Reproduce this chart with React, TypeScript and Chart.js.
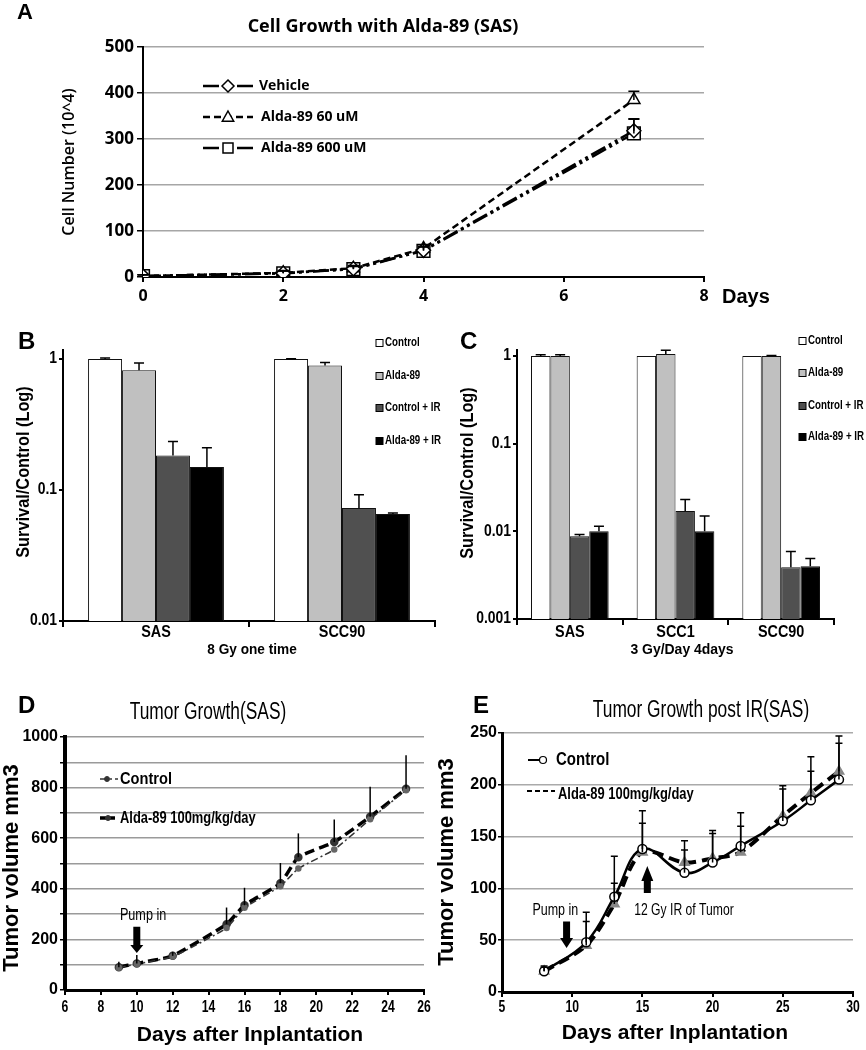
import React, { useEffect, useRef } from 'react';
import { Chart, registerables } from 'chart.js';

Chart.register(...registerables);

const ARIAL = '"Liberation Sans", Arial, sans-serif';
const OPEN = '"Open Sans", "DejaVu Sans", sans-serif';

// ---------- Panel A ----------
const daysA = [0, 2, 3, 4, 7];
const vehicleA = [2, 8, 18, 58, 318];
const alda60A = [2, 9, 19, 62, 385];
const alda600A = [2, 8, 17, 57, 312];
const vehicleErrA = [3, 5, 6, 8, 26];
const alda60ErrA = [3, 5, 6, 8, 19];
const alda600ErrA = [3, 5, 6, 8, 31];
const seriesNamesA = ['Vehicle', 'Alda-89 60 uM', 'Alda-89 600 uM'];

// ---------- Panel B ----------
const cellsB = ['SAS', 'SCC90'];
const controlB = [1.0, 1.0];
const aldaB = [0.82, 0.89];
const controlIRB = [0.183, 0.073];
const aldaIRB = [0.15, 0.0655];
const controlErrB = [0.015, 0.004];
const aldaErrB = [0.11, 0.05];
const controlIRErrB = [0.051, 0.019];
const aldaIRErrB = [0.06, 0.0012];
const logTicksB = [0.01, 0.1, 1];

// ---------- Panel C ----------
const cellsC = ['SAS', 'SCC1', 'SCC90'];
const controlC = [1.0, 1.0, 1.0];
const aldaC = [1.0, 1.05, 1.0];
const controlIRC = [0.0088, 0.017, 0.0039];
const aldaIRC = [0.01, 0.01, 0.004];
const controlErrC = [0.03, 0, 0];
const aldaErrC = [0.03, 0.11, 0.01];
const controlIRErrC = [0.0004, 0.006, 0.002];
const aldaIRErrC = [0.0014, 0.005, 0.0009];
const logTicksC = [0.001, 0.01, 0.1, 1];
const barNames = ['Control', 'Alda-89', 'Control + IR', 'Alda-89 + IR'];
const barColors = ['#ffffff', '#c0c0c0', '#505050', '#000000'];

// ---------- Panel D ----------
const daysD = [9, 10, 12, 15, 16, 18, 19, 21, 23, 25];
const controlD = [88, 103, 132, 245, 325, 410, 480, 555, 675, 790];
const aldaD = [90, 105, 135, 260, 335, 422, 525, 585, 685, 795];
const aldaErrD = [22, 33, 16, 66, 69, 80, 94, 89, 118, 133];

// ---------- Panel E ----------
const daysE = [8, 11, 13, 15, 18, 20, 22, 25, 27, 29];
const controlE = [20, 48, 92, 138, 115, 125, 141, 165, 185, 205];
const aldaE = [20, 45, 85, 135, 125, 129, 135, 170, 192, 213];
const controlErrE = [5, 29, 39, 37, 31, 31, 32, 34, 42, 42];
const aldaErrE = [4, 23, 20, 28, 12, 24, 25, 26, 21, 27];
const tumorNames = ['Control', 'Alda-89 100mg/kg/day'];

type R4 = [number, number, number, number];

const RECT_A: R4 = [0, 0, 800, 312];
const AREA_A: R4 = [143, 47, 704, 277];
const RECT_B: R4 = [0, 318, 452, 350];
const AREA_B: R4 = [63, 350, 435, 621];
const RECT_C: R4 = [440, 318, 426, 350];
const AREA_C: R4 = [517, 350, 834, 619];
const RECT_D: R4 = [0, 680, 440, 370];
const AREA_D: R4 = [65, 737, 424, 990];
const RECT_E: R4 = [430, 680, 436, 370];
const AREA_E: R4 = [502, 733, 853, 992];

function geom(rect: R4, area: R4) {
  const [cl, ct, cw, ch] = rect;
  const [l, t, r, b] = area;
  return {
    padding: { top: t - ct, right: cl + cw - r, left: 0, bottom: 0 },
    yWidth: l - cl,
    xHeight: ct + ch - b,
  };
}

// text drawn with optional horizontal compression (to emulate a narrow face)
function text(ctx: any, s: string, x: number, y: number, font: string, align = 'center', rot = 0, sx = 1) {
  ctx.save();
  ctx.font = font;
  ctx.fillStyle = '#000';
  ctx.textAlign = align;
  ctx.textBaseline = 'middle';
  ctx.translate(x, y);
  if (rot) ctx.rotate(rot);
  if (sx !== 1) ctx.scale(sx, 1);
  ctx.fillText(s, 0, 0);
  ctx.restore();
}

function marker(ctx: any, style: string, x: number, y: number, r: number, fill: string, stroke: string, lw: number) {
  ctx.save();
  ctx.setLineDash([]);
  ctx.beginPath();
  if (style === 'rect') ctx.rect(x - r, y - r, 2 * r, 2 * r);
  else if (style === 'rectRot') {
    ctx.moveTo(x, y - r); ctx.lineTo(x + r, y); ctx.lineTo(x, y + r); ctx.lineTo(x - r, y); ctx.closePath();
  } else if (style === 'triangle') {
    ctx.moveTo(x, y - r); ctx.lineTo(x + r * 0.95, y + r * 0.7); ctx.lineTo(x - r * 0.95, y + r * 0.7); ctx.closePath();
  } else ctx.arc(x, y, r, 0, Math.PI * 2);
  ctx.fillStyle = fill;
  ctx.fill();
  ctx.lineWidth = lw;
  ctx.strokeStyle = stroke;
  ctx.stroke();
  ctx.restore();
}

function seg(ctx: any, x1: number, x2: number, y: number, lw: number, dash: number[], color = '#000') {
  ctx.save();
  ctx.strokeStyle = color;
  ctx.lineWidth = lw;
  ctx.setLineDash(dash);
  ctx.beginPath();
  ctx.moveTo(x1, y);
  ctx.lineTo(x2, y);
  ctx.stroke();
  ctx.restore();
}

function blockArrow(ctx: any, x: number, yFrom: number, yTip: number, shaftW: number, headW: number, headLen: number) {
  const dir = yTip > yFrom ? 1 : -1;
  const yHead = yTip - dir * headLen;
  ctx.save();
  ctx.fillStyle = '#000';
  ctx.beginPath();
  ctx.moveTo(x - shaftW / 2, yFrom);
  ctx.lineTo(x + shaftW / 2, yFrom);
  ctx.lineTo(x + shaftW / 2, yHead);
  ctx.lineTo(x + headW / 2, yHead);
  ctx.lineTo(x, yTip);
  ctx.lineTo(x - headW / 2, yHead);
  ctx.lineTo(x - shaftW / 2, yHead);
  ctx.closePath();
  ctx.fill();
  ctx.restore();
}

const errorBars = {
  id: 'errorBars',
  afterDatasetsDraw(chart: any) {
    const ctx = chart.ctx;
    chart.data.datasets.forEach((ds: any, i: number) => {
      const errs = ds.errPlus;
      if (!errs) return;
      const meta = chart.getDatasetMeta(i);
      const yScale = chart.scales[meta.yAxisID];
      ctx.save();
      ctx.strokeStyle = '#000';
      ctx.lineWidth = ds.errWidth || 1.5;
      ctx.setLineDash([]);
      meta.data.forEach((el: any, j: number) => {
        const e = errs[j];
        if (!e) return;
        const raw = ds.data[j];
        const v = typeof raw === 'number' ? raw : raw.y;
        const x = el.x;
        const y0 = el.y;
        const y1 = yScale.getPixelForValue(v + e);
        ctx.beginPath();
        ctx.moveTo(x, y0);
        ctx.lineTo(x, y1);
        const c = ds.errCap ?? 5;
        if (c > 0) {
          ctx.moveTo(x - c, y1);
          ctx.lineTo(x + c, y1);
        }
        ctx.stroke();
      });
      ctx.restore();
    });
  },
};

// decorations are drawn in page coordinates; X/Y map data values to page coordinates
function deco(rect: R4, draw: (ctx: any, X: (v: number) => number, Y: (v: number) => number, chart: any) => void) {
  return {
    id: 'deco',
    afterDraw(chart: any) {
      const ctx = chart.ctx;
      const xs = chart.scales.x, ys = chart.scales.y;
      const X = (v: number) => xs.getPixelForValue(v) + rect[0];
      const Y = (v: number) => ys.getPixelForValue(v) + rect[1];
      ctx.save();
      ctx.translate(-rect[0], -rect[1]);
      draw(ctx, X, Y, chart);
      ctx.restore();
    },
  };
}

function baseOpts(rect: R4, area: R4) {
  const g = geom(rect, area);
  return {
    g,
    opts: {
      responsive: false,
      animation: false,
      devicePixelRatio: 1,
      layout: { padding: g.padding },
      plugins: { legend: { display: false }, tooltip: { enabled: false }, title: { display: false } },
    },
  };
}

// ---------------- Panel A config ----------------
function configA() {
  const { g, opts } = baseOpts(RECT_A, AREA_A);
  const mk = (name: string, ys: number[], errs: number[], dash: number[], style: string, r: number) => ({
    label: name,
    data: daysA.map((d, i) => ({ x: d, y: ys[i] })),
    borderColor: '#000',
    borderWidth: 2.5,
    borderDash: dash,
    backgroundColor: '#fff',
    pointStyle: style,
    pointRadius: r,
    pointBorderWidth: 1.5,
    pointBorderColor: '#000',
    pointBackgroundColor: '#fff',
    errPlus: errs,
    errCap: 5.5,
    errWidth: 1.5,
    tension: 0,
  });
  const datasets = [
    mk(seriesNamesA[0], vehicleA, vehicleErrA, [16, 4, 3, 4, 3, 4], 'rectRot', 7),
    mk(seriesNamesA[1], alda60A, alda60ErrA, [7, 4], 'triangle', 7),
    mk(seriesNamesA[2], alda600A, alda600ErrA, [16, 4, 3, 4, 3, 4], 'rect', 9),
  ];
  return {
    type: 'line',
    data: { datasets },
    options: {
      ...opts,
      scales: {
        x: {
          type: 'linear', min: 0, max: 8,
          afterFit: (a: any) => { a.height = g.xHeight; },
          ticks: { stepSize: 2, color: '#000', font: { family: OPEN, size: 16, weight: 'bold' }, padding: 5 },
          grid: { drawOnChartArea: false, drawTicks: true, tickLength: 5, tickColor: '#000', lineWidth: 2 },
          border: { color: '#000', width: 2 },
        },
        y: {
          min: 0, max: 500,
          afterFit: (a: any) => { a.width = g.yWidth; },
          ticks: { stepSize: 100, color: '#000', font: { family: OPEN, size: 17, weight: 'bold' }, padding: 3 },
          grid: { color: '#a6a6a6', lineWidth: 1.5, drawTicks: true, tickLength: 6, tickColor: '#000' },
          border: { color: '#000', width: 2 },
        },
      },
    },
    plugins: [
      errorBars,
      deco(RECT_A, (ctx) => {
        text(ctx, 'A', 17, 13, `bold 22px ${ARIAL}`, 'left');
        text(ctx, 'Cell Growth with Alda-89 (SAS)', 383, 27, `bold 18px ${OPEN}`);
        text(ctx, 'Cell Number (10^4)', 69, 162, `600 16px ${OPEN}`, 'center', -Math.PI / 2);
        text(ctx, 'Days', 722, 297, `bold 20px ${ARIAL}`, 'left');
        const rows = [86, 117, 148];
        datasets.forEach((ds: any, i: number) => {
          const y = rows[i];
          seg(ctx, 203, 253, y, 2.5, ds.borderDash);
          marker(ctx, ds.pointStyle, 228, y, ds.pointStyle === 'rect' ? 5 : 6, '#fff', '#000', 1.5);
          text(ctx, ds.label, i === 0 ? 259 : 261, y, `bold 14px ${OPEN}`, 'left');
        });
      }),
    ],
  };
}

// ---------------- Bar panels ----------------
function configBar(rect: R4, area: R4, cells: string[], vals: number[][], errs: number[][], logTicks: number[], catPct: number,
  drawExtra: (ctx: any) => void) {
  const { g, opts } = baseOpts(rect, area);
  const datasets = vals.map((v, i) => ({
    label: barNames[i],
    data: v,
    backgroundColor: barColors[i],
    borderColor: '#111',
    borderWidth: 1,
    categoryPercentage: catPct,
    barPercentage: 1,
    errPlus: errs[i],
    errCap: 5,
    errWidth: 1.5,
  }));
  return {
    type: 'bar',
    data: { labels: cells, datasets },
    options: {
      ...opts,
      scales: {
        x: {
          afterFit: (a: any) => { a.height = g.xHeight; },
          ticks: { display: false },
          grid: { offset: true, drawOnChartArea: false, drawTicks: true, tickLength: 6, tickColor: '#000', lineWidth: 2 },
          border: { color: '#000', width: 2 },
        },
        y: {
          type: 'logarithmic',
          min: logTicks[0],
          max: 1.17,
          afterFit: (a: any) => { a.width = g.yWidth; },
          afterBuildTicks: (a: any) => { a.ticks = logTicks.map((v) => ({ value: v })); },
          ticks: { display: false },
          grid: { drawOnChartArea: false, drawTicks: true, tickLength: 4, tickColor: '#000', lineWidth: 2 },
          border: { color: '#000', width: 2 },
        },
      },
    },
    plugins: [
      errorBars,
      deco(rect, (ctx, X, Y) => {
        cells.forEach((c, i) => text(ctx, c, X(i), 633, `bold 16px ${ARIAL}`, 'center', 0, 0.9));
        logTicks.forEach((v) => text(ctx, String(v), area[0] - 6, Y(v), `bold 16px ${ARIAL}`, 'right', 0, 0.87));
        drawExtra(ctx);
      }),
    ],
  };
}

function barLegend(ctx: any, x: number, rows: number[]) {
  rows.forEach((y, i) => {
    ctx.save();
    ctx.fillStyle = barColors[i];
    ctx.strokeStyle = '#000';
    ctx.lineWidth = 1;
    ctx.fillRect(x, y - 3.5, 7, 7);
    ctx.strokeRect(x, y - 3.5, 7, 7);
    ctx.restore();
    text(ctx, barNames[i], x + 9, y, `bold 12.5px ${ARIAL}`, 'left', 0, 0.78);
  });
}

function configB() {
  return configBar(RECT_B, AREA_B, cellsB, [controlB, aldaB, controlIRB, aldaIRB],
    [controlErrB, aldaErrB, controlIRErrB, aldaIRErrB], logTicksB, 0.73, (ctx) => {
      text(ctx, 'B', 18, 342, `bold 24px ${ARIAL}`, 'left');
      text(ctx, 'Survival/Control (Log)', 24, 472, `bold 19px ${ARIAL}`, 'center', -Math.PI / 2, 0.86);
      text(ctx, '8 Gy one time', 252, 650, `bold 15.5px ${ARIAL}`, 'center', 0, 0.88);
      barLegend(ctx, 376, [343, 376, 408, 441]);
    });
}

function configC() {
  return configBar(RECT_C, AREA_C, cellsC, [controlC, aldaC, controlIRC, aldaIRC],
    [controlErrC, aldaErrC, controlIRErrC, aldaIRErrC], logTicksC, 0.735, (ctx) => {
      text(ctx, 'C', 460, 342, `bold 24px ${ARIAL}`, 'left');
      text(ctx, 'Survival/Control (Log)', 468, 473, `bold 19px ${ARIAL}`, 'center', -Math.PI / 2, 0.86);
      text(ctx, '3 Gy/Day 4days', 682, 650, `bold 15.5px ${ARIAL}`, 'center', 0, 0.9);
      barLegend(ctx, 799, [341, 373, 406, 437]);
    });
}

// ---------------- Panel D ----------------
function configD() {
  const { g, opts } = baseOpts(RECT_D, AREA_D);
  const datasets = [
    {
      label: tumorNames[0],
      data: daysD.map((d, i) => ({ x: d, y: controlD[i] })),
      borderColor: '#333', borderWidth: 1.5, borderDash: [7, 3, 2, 3],
      pointRadius: 2.5, pointBackgroundColor: '#666', pointBorderColor: '#666', tension: 0.15,
    },
    {
      label: tumorNames[1],
      data: daysD.map((d, i) => ({ x: d, y: aldaD[i] })),
      borderColor: '#000', borderWidth: 3.5, borderDash: [10, 5],
      pointRadius: 2.5, pointBackgroundColor: '#333', pointBorderColor: '#333', tension: 0.15,
      errPlus: aldaErrD, errCap: 0, errWidth: 1.5,
    },
  ];
  return {
    type: 'line',
    data: { datasets },
    options: {
      ...opts,
      scales: {
        x: {
          type: 'linear', min: 6, max: 26,
          afterFit: (a: any) => { a.height = g.xHeight; },
          ticks: { stepSize: 2, display: false },
          grid: { drawOnChartArea: false, drawTicks: true, tickLength: 5, tickColor: '#000', lineWidth: 2 },
          border: { color: '#000', width: 3 },
        },
        y: {
          min: 0, max: 1000,
          afterFit: (a: any) => { a.width = g.yWidth; },
          ticks: { stepSize: 100, color: '#000', font: { family: ARIAL, size: 16, weight: 'bold' }, padding: 2,
            callback: (v: any) => (v % 200 === 0 ? String(v) : '') },
          grid: { color: '#9a9a9a', lineWidth: 1.5, drawTicks: true, tickLength: 5, tickColor: '#000' },
          border: { color: '#000', width: 4 },
        },
      },
    },
    plugins: [
      errorBars,
      deco(RECT_D, (ctx, X, Y, chart) => {
        chart.scales.x.ticks.forEach((t: any) =>
          text(ctx, String(t.value), X(t.value), 1008, `bold 16px ${ARIAL}`, 'center', 0, 0.76));
        text(ctx, 'D', 18, 706, `bold 24px ${ARIAL}`, 'left');
        text(ctx, 'Tumor Growth(SAS)', 208, 713, `23px ${ARIAL}`, 'center', 0, 0.755);
        text(ctx, 'Tumor volume mm3', 12, 868, `bold 22px ${ARIAL}`, 'center', -Math.PI / 2);
        text(ctx, 'Days after Inplantation', 250, 1035, `bold 21px ${ARIAL}`);
        // legend
        seg(ctx, 100, 118, 779, 1.5, [7, 3, 2, 3], '#333');
        marker(ctx, 'circle', 107, 779, 2.5, '#333', '#333', 1);
        text(ctx, tumorNames[0], 120, 779, `bold 17px ${ARIAL}`, 'left', 0, 0.86);
        seg(ctx, 100, 118, 818, 3.5, [6, 3]);
        marker(ctx, 'circle', 108, 818, 2.5, '#333', '#333', 1);
        text(ctx, tumorNames[1], 120, 818, `bold 17px ${ARIAL}`, 'left', 0, 0.76);
        // annotation
        text(ctx, 'Pump in', X(10.35), Y(296), `16px ${ARIAL}`, 'center', 0, 0.79);
        blockArrow(ctx, X(10), Y(250), Y(146), 7, 13, 8);
      }),
    ],
  };
}

// ---------------- Panel E ----------------
function configE() {
  const { g, opts } = baseOpts(RECT_E, AREA_E);
  const datasets = [
    {
      label: tumorNames[0],
      data: daysE.map((d, i) => ({ x: d, y: controlE[i] })),
      borderColor: '#000', borderWidth: 2.5,
      pointStyle: 'circle', pointRadius: 4.5, pointBackgroundColor: '#fff', pointBorderColor: '#000', pointBorderWidth: 1.5,
      tension: 0.4, errPlus: controlErrE, errCap: 3.5, errWidth: 1.5,
    },
    {
      label: tumorNames[1],
      data: daysE.map((d, i) => ({ x: d, y: aldaE[i] })),
      borderColor: '#000', borderWidth: 4, borderDash: [11, 6],
      pointStyle: 'triangle', pointRadius: 3, pointBackgroundColor: '#888', pointBorderColor: '#888',
      tension: 0.3, errPlus: aldaErrE, errCap: 3.5, errWidth: 1.5,
    },
  ];
  return {
    type: 'line',
    data: { datasets },
    options: {
      ...opts,
      scales: {
        x: {
          type: 'linear', min: 5, max: 30,
          afterFit: (a: any) => { a.height = g.xHeight; },
          ticks: { stepSize: 5, display: false },
          grid: { drawOnChartArea: false, drawTicks: true, tickLength: 5, tickColor: '#000', lineWidth: 2 },
          border: { color: '#000', width: 3 },
        },
        y: {
          min: 0, max: 250,
          afterFit: (a: any) => { a.width = g.yWidth; },
          ticks: { stepSize: 50, color: '#000', font: { family: ARIAL, size: 16, weight: 'bold' }, padding: 1 },
          grid: { color: '#aaaaaa', lineWidth: 1.5, drawTicks: true, tickLength: 4, tickColor: '#000' },
          border: { color: '#000', width: 3 },
        },
      },
    },
    plugins: [
      errorBars,
      deco(RECT_E, (ctx, X, Y, chart) => {
        chart.scales.x.ticks.forEach((t: any) =>
          text(ctx, String(t.value), X(t.value), 1008, `bold 16px ${ARIAL}`, 'center', 0, 0.76));
        text(ctx, 'E', 473, 706, `bold 24px ${ARIAL}`, 'left');
        text(ctx, 'Tumor Growth post IR(SAS)', 701, 711, `23px ${ARIAL}`, 'center', 0, 0.755);
        text(ctx, 'Tumor volume mm3', 447, 862, `bold 22px ${ARIAL}`, 'center', -Math.PI / 2);
        text(ctx, 'Days after Inplantation', 675, 1033, `bold 21px ${ARIAL}`);
        // legend
        seg(ctx, 528, 547, 760, 2, []);
        marker(ctx, 'circle', 543, 760, 3.5, '#fff', '#000', 1.2);
        text(ctx, tumorNames[0], 556, 760, `bold 19px ${ARIAL}`, 'left', 0, 0.79);
        seg(ctx, 527, 555, 791, 2, [5, 3]);
        text(ctx, tumorNames[1], 558, 794, `bold 17px ${ARIAL}`, 'left', 0, 0.76);
        // annotations
        text(ctx, 'Pump in', X(8.8), Y(79), `16px ${ARIAL}`, 'center', 0, 0.78);
        blockArrow(ctx, X(9.6), Y(68), Y(42.5), 7, 13, 10);
        text(ctx, '12 Gy IR of Tumor', X(17.96), Y(79), `16px ${ARIAL}`, 'center', 0, 0.76);
        blockArrow(ctx, X(15.35), Y(95.6), Y(121.6), 7, 12, 15);
      }),
    ],
  };
}

function ChartCanvas({ rect, config }: { rect: R4; config: () => any }) {
  const ref = useRef<HTMLCanvasElement>(null);
  useEffect(() => {
    const c = new Chart(ref.current as HTMLCanvasElement, config());
    return () => c.destroy();
  }, []);
  return (
    <canvas
      ref={ref}
      width={rect[2]}
      height={rect[3]}
      style={{ position: 'absolute', left: rect[0], top: rect[1], width: rect[2], height: rect[3] }}
    />
  );
}

export default function App() {
  return (
    <div style={{ position: 'absolute', left: 0, top: 0, width: 866, height: 1050, background: '#fff' }}>
      <ChartCanvas rect={RECT_A} config={configA} />
      <ChartCanvas rect={RECT_B} config={configB} />
      <ChartCanvas rect={RECT_C} config={configC} />
      <ChartCanvas rect={RECT_D} config={configD} />
      <ChartCanvas rect={RECT_E} config={configE} />
    </div>
  );
}
